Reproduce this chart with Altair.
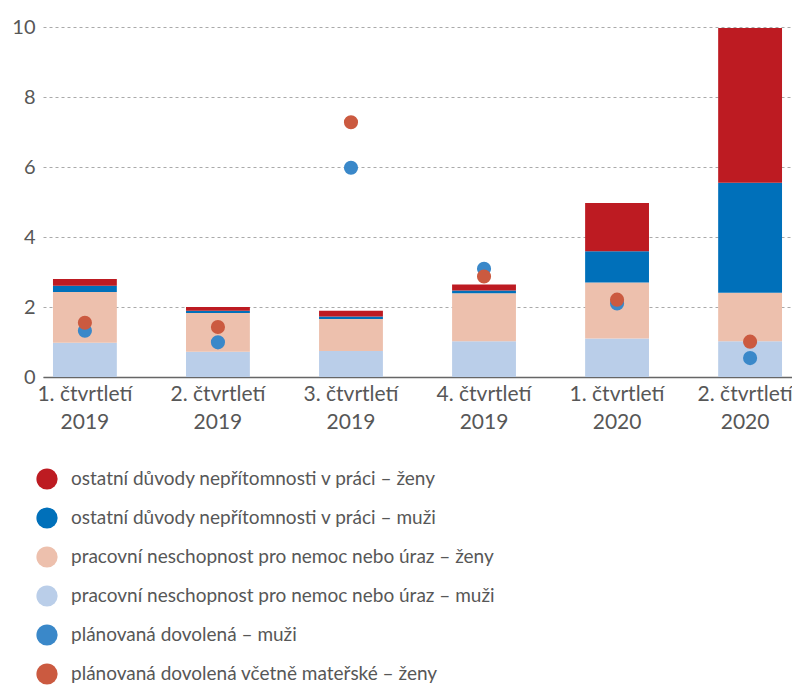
import altair as alt
import pandas as pd

quarters = ["1. čtvrtletí 2019", "2. čtvrtletí 2019", "3. čtvrtletí 2019",
            "4. čtvrtletí 2019", "1. čtvrtletí 2020", "2. čtvrtletí 2020"]

series_names = [
    "ostatní důvody nepřítomnosti v práci – ženy",
    "ostatní důvody nepřítomnosti v práci – muži",
    "pracovní neschopnost pro nemoc nebo úraz – ženy",
    "pracovní neschopnost pro nemoc nebo úraz – muži",
    "plánovaná dovolená – muži",
    "plánovaná dovolená včetně mateřské – ženy",
]
series_colors = ["#BD1B22", "#0070BA", "#EDC0AD", "#BACEE9", "#3A88C9", "#CB5A40"]

# stacked bar segments (bottom to top)
nemoc_muzi = [0.98, 0.72, 0.74, 1.02, 1.10, 1.02]
nemoc_zeny = [1.45, 1.11, 0.92, 1.37, 1.60, 1.39]
ostatni_muzi = [0.18, 0.06, 0.07, 0.08, 0.89, 3.14]
ostatni_zeny = [0.19, 0.11, 0.16, 0.17, 1.38, 4.42]

# points
dovolena_muzi = [1.32, 0.99, 5.98, 3.09, 2.10, 0.54]
dovolena_zeny = [1.55, 1.43, 7.28, 2.87, 2.21, 1.01]

bar_rows = []
for order, (name, vals) in enumerate([
        (series_names[3], nemoc_muzi),
        (series_names[2], nemoc_zeny),
        (series_names[1], ostatni_muzi),
        (series_names[0], ostatni_zeny)]):
    for q, v in zip(quarters, vals):
        bar_rows.append({"quarter": q, "series": name, "value": v, "ord": order})
bars_df = pd.DataFrame(bar_rows)

pt_rows = []
for name, vals in [(series_names[4], dovolena_muzi), (series_names[5], dovolena_zeny)]:
    for q, v in zip(quarters, vals):
        pt_rows.append({"quarter": q, "series": name, "value": v})
pts_df = pd.DataFrame(pt_rows)

FONT = "Lato"
TXT = "#575757"
last_test = "datum.value == '" + quarters[-1] + "'"

x_enc = alt.X(
    "quarter:N", sort=quarters,
    scale=alt.Scale(paddingInner=0.52, paddingOuter=0.075),
    axis=alt.Axis(title=None, labelAngle=0, domainColor="#666666", domainWidth=1.5,
                  ticks=False, labelFont=FONT, labelFontSize=21, labelColor=TXT,
                  labelPadding=6, labelLineHeight=28, labelBound=False,
                  labelOffset={"condition": {"test": last_test, "value": -5}, "value": 0},
                  labelExpr="[substring(datum.label, 0, 12), substring(datum.label, 13)]"),
)

y_axis = alt.Axis(values=[0, 2, 4, 6, 8, 10], title=None, domain=False, ticks=False,
                  gridDash=[3, 3], gridColor="#aaaaaa", gridWidth=1,
                  labelFont=FONT, labelFontSize=20, labelColor=TXT, labelPadding=8)
y_scale = alt.Scale(domain=[0, 10], nice=False)

legend = alt.Legend(orient="none", legendX=-7, legendY=441, title=None,
                    symbolType="circle", symbolSize=450, symbolStrokeWidth=0,
                    symbolOpacity=1, labelFont=FONT, labelFontSize=19,
                    labelColor=TXT, labelLimit=700, rowPadding=17, labelOffset=13,
                    padding=0)
color_scale = alt.Scale(domain=series_names, range=series_colors)

bars = alt.Chart(bars_df).mark_bar().encode(
    x=x_enc,
    y=alt.Y("value:Q", stack="zero", scale=y_scale, axis=y_axis),
    color=alt.Color("series:N", scale=color_scale, legend=legend),
    order=alt.Order("ord:Q"),
)

points = alt.Chart(pts_df).mark_circle(size=200, opacity=1).encode(
    x=x_enc,
    y=alt.Y("value:Q", scale=y_scale, axis=y_axis),
    color=alt.Color("series:N", scale=color_scale, legend=legend),
)

chart = alt.layer(bars, points).properties(
    width=749, height=350,
    padding={"left": 35, "top": 19, "right": 0, "bottom": 308},
    autosize=alt.AutoSizeParams(type="none"),
).configure_view(stroke=None)

chart.save("out.html", embed_options={"renderer": "svg", "actions": False})
